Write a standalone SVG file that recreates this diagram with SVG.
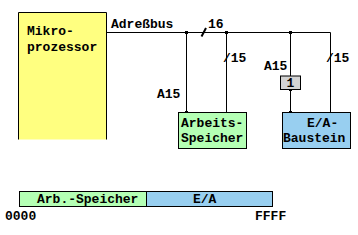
<svg xmlns="http://www.w3.org/2000/svg" width="358" height="235" viewBox="0 0 358 235">
<style>
text{font-family:"Liberation Mono","DejaVu Sans Mono",monospace;font-weight:bold;font-size:13px;fill:#000}
.ln{stroke:#000;stroke-width:1;fill:none}
.bx{stroke:#000;stroke-width:1}
.dot{fill:#000}
</style>
<rect width="358" height="235" fill="#fff"/>
<g id="cpu">
<rect x="18.5" y="12.5" width="88" height="127" fill="#ffff80"/>
<path class="ln" d="M18.5 139.5V12.5H106.5V139.5"/>
<text x="27" y="35">Mikro-</text>
<text x="27" y="51">prozessor</text>
</g>
<g id="connectors">
<path class="ln" d="M106.5 32.5H330.5V112.5"/>
<path class="ln" d="M186.5 32.5V112.5M226.5 32.5V112.5M290.5 32.5V76M290.5 89.5V112.5"/>
<line x1="201.5" y1="36.5" x2="206" y2="28" stroke="#000" stroke-width="2"/>
<rect class="dot" x="185" y="31" width="3" height="3"/>
<rect class="dot" x="225" y="31" width="3" height="3"/>
<rect class="dot" x="289" y="31" width="3" height="3"/>
<rect class="dot" x="185" y="111" width="3" height="3"/>
<rect class="dot" x="289" y="111" width="3" height="3"/>
<rect class="dot" x="289" y="88" width="3" height="3"/>
<text x="111" y="28">Adreßbus</text>
<text x="208" y="28">16</text>
<text x="223" y="62">/15</text>
<text x="326" y="62">/15</text>
<text x="157" y="98">A15</text>
<text x="264" y="70">A15</text>
</g>
<g id="gate">
<rect class="bx" x="280.5" y="76" width="20" height="13.5" fill="#d3d3d3"/>
<text x="290.5" y="87" text-anchor="middle">1</text>
</g>
<g id="arbeitsspeicher">
<rect class="bx" x="178.5" y="112.5" width="68" height="36" fill="#b4ffb4"/>
<text x="181" y="127">Arbeits-</text>
<text x="181" y="142">Speicher</text>
</g>
<g id="ea">
<rect class="bx" x="282.5" y="112.5" width="68" height="36" fill="#98cff0"/>
<text x="307" y="127">E/A-</text>
<text x="283" y="142">Baustein</text>
</g>
<g id="memmap">
<rect class="bx" x="19.5" y="191.5" width="127" height="15" fill="#b4ffb4"/>
<rect class="bx" x="146.5" y="191.5" width="126" height="15" fill="#98cff0"/>
<text x="37" y="203">Arb.-Speicher</text>
<text x="193" y="203">E/A</text>
<text x="5" y="220">0000</text>
<text x="255" y="220">FFFF</text>
</g>
</svg>
